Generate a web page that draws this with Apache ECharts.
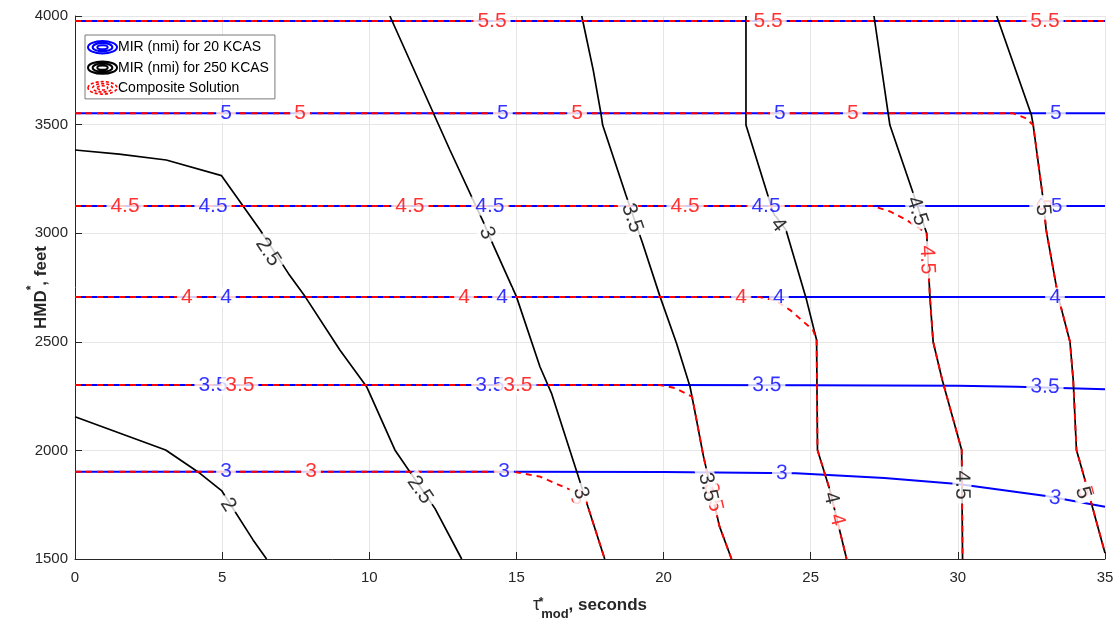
<!DOCTYPE html>
<html><head><meta charset="utf-8">
<script src="https://cdn.jsdelivr.net/npm/echarts@6/dist/echarts.min.js"></script>
<style>html,body{margin:0;padding:0;background:#fff}#c{width:1120px;height:624px}</style>
</head><body><div id="c"></div>
<script>
// ---------------- DATA ----------------
const xTicks = [0, 5, 10, 15, 20, 25, 30, 35];
const yTicks = [1500, 2000, 2500, 3000, 3500, 4000];

// MIR (nmi) for 20 KCAS contours  [tau, HMD]
const blueLevels = [3, 3.5, 4, 4.5, 5, 5.5];
const blue30 = [[0,1902],[15,1902],[20,1900],[24.5,1895],[27.5,1873],[30,1845],[33,1790],[35,1741]];
const blue35 = [[0,2301],[20,2301],[25,2300],[30,2298],[32,2293],[35,2281]];
const blue40 = [[0,2706],[35,2706]];
const blue45 = [[0,3125],[35,3125]];
const blue50 = [[0,3552],[35,3552]];
const blue55 = [[0,3977],[35,3977]];

// MIR (nmi) for 250 KCAS contours
const blackLevels = [2, 2.5, 3, 3.5, 4, 4.5, 5];
const black20 = [[0,2155],[3.08,2002],[4.17,1902],[4.98,1815],[6.05,1588],[6.51,1500]];
const black25 = [[0,3383],[1.5,3364],[3.1,3337],[4.98,3265],[6.29,3015],[7.25,2815],[7.82,2708],[9.0,2462],[9.91,2293],[10.02,2260],[10.87,2002],[12.23,1733],[13.14,1500]];
const black30 = [[10.7,4000],[12.74,3383],[13.87,3053],[14.21,2946],[15.0,2708],[15.8,2385],[16.2,2260],[17.16,1856],[17.43,1741],[18.0,1500]];
const black35 = [[17.22,4000],[17.61,3751],[17.87,3553],[17.93,3498],[18.72,3176],[19.29,2953],[19.88,2708],[20.44,2493],[20.9,2293],[21.12,2140],[21.35,1976],[21.9,1650],[22.31,1500]];
const black40 = [[22.8,4000],[22.8,3498],[23.73,3093],[24.16,3015],[24.86,2692],[25.2,2508],[25.23,2002],[25.65,1818],[26.22,1500]];
const black45 = [[27.15,4000],[27.63,3553],[27.69,3498],[28.43,3205],[28.94,3000],[29.05,2708],[29.16,2500],[29.47,2324],[30.13,2002],[30.16,1500]];
const black50 = [[31.32,4000],[32.5,3544],[32.56,3498],[32.9,3153],[33.0,3015],[33.41,2708],[33.81,2500],[33.92,2324],[34.03,2002],[34.32,1864],[35,1528]];

// Composite solution contours
const redLevels = [3, 3.5, 4, 4.5, 5, 5.5];
const red30 = [[0,1902],[14.9,1902],[15.8,1879],[16.7,1826],[17.3,1795],[17.43,1741],[18.0,1500]];
const red35 = [[0,2301],[19.88,2301],[20.39,2287],[20.97,2247],[21.12,2140],[21.35,1976],[21.9,1650],[22.31,1500]];
const red40 = [[0,2706],[23.28,2706],[23.8,2690],[24.3,2646],[25.08,2554],[25.2,2508],[25.23,2002],[25.65,1818],[26.22,1500]];
const red45 = [[0,3125],[27.1,3125],[27.7,3100],[28.25,3061],[28.94,3000],[29.05,2708],[29.16,2500],[29.47,2324],[30.13,2002],[30.16,1500]];
const red50 = [[0,3552],[31.88,3552],[32.3,3530],[32.56,3498],[32.9,3153],[33.0,3015],[33.41,2708],[33.81,2500],[33.92,2324],[34.03,2002],[34.32,1864],[35,1528]];
const red55 = [[0,3977],[35,3977]];

// contour labels  [level, tau, HMD]
const blueLabels = [
  [5,5.13,3552],[5,14.54,3552],[5,23.95,3552],[5,33.33,3552],
  [4.5,4.69,3125],[4.5,14.1,3125],[4.5,23.48,3125],[4.5,33.06,3125],
  [4,5.13,2706],[4,14.51,2706],[4,23.92,2706],[4,33.3,2706],
  [3.5,4.69,2301],[3.5,14.1,2301],[3.5,23.51,2300],[3.5,32.96,2292],
  [3,5.13,1902],[3,14.58,1902],[3,24.02,1895],[3,33.3,1781]
];
const redLabels = [
  [5.5,14.17,3977],[5.5,23.55,3977],[5.5,32.96,3977],
  [5,7.65,3552],[5,17.06,3552],[5,26.43,3552],
  [4.5,1.7,3125],[4.5,11.38,3125],[4.5,20.73,3125],
  [4,3.8,2706],[4,13.22,2706],[4,22.63,2706],
  [3.5,5.6,2301],[3.5,15.05,2301],
  [3,8.02,1902],
  [3,17.06,1781],[3.5,21.68,1785],[4,25.89,1680],[4.5,28.95,2877],[5,32.89,3130],[5,34.32,1808]
];
const blackLabels = [
  [2,5.2,1749],
  [2.5,6.56,2913],[2.5,11.72,1818],
  [3,14.0,3001],[3,17.19,1804],
  [3.5,18.93,3070],[3.5,21.51,1831],
  [4,23.89,3038],[4,25.69,1781],
  [4.5,28.61,3102],[4.5,30.14,1841],
  [5,32.89,3107],[5,34.25,1804]
];

const seriesNames = ['MIR (nmi) for 20 KCAS', 'MIR (nmi) for 250 KCAS', 'Composite Solution'];
// ---------------------------------------------------------------

const blueLines = [blue30, blue35, blue40, blue45, blue50, blue55];
const blackLines = [black20, black25, black30, black35, black40, black45, black50];
const redLines = [red30, red35, red40, red45, red50, red55];

const FONT = '"Liberation Sans", Arial, Helvetica, sans-serif';
const BLUE = '#0000ff', BLACK = '#000000', RED = '#ff0000';
const AX = '#262626';
const ringPath = 'path://M1,6.5 A14,6 0 1,1 29,6.5 A14,6 0 1,1 1,6.5 Z M5.5,6.5 A9.5,4 0 1,1 24.5,6.5 A9.5,4 0 1,1 5.5,6.5 Z M10,6.5 A5,2 0 1,1 20,6.5 A5,2 0 1,1 10,6.5 Z';

const chart = echarts.init(document.getElementById('c'));

function lineSeries(name, data, color, width, type, z) {
  return {
    name, type: 'line', data, z, symbol: 'none', showSymbol: false, silent: true,
    animation: false, clip: true,
    itemStyle: { color },
    lineStyle: { color, width, type, dashOffset: 0 }
  };
}

const series = [];
blueLines.forEach(l => series.push(lineSeries(seriesNames[0], l, BLUE, 2, 'solid', 2)));
blackLines.forEach(l => series.push(lineSeries(seriesNames[1], l, BLACK, 1.7, 'solid', 3)));
redLines.forEach(l => series.push(lineSeries(seriesNames[2], l, RED, 1.9, [6, 5], 4)));

const option = {
  animation: false,
  backgroundColor: '#fff',
  textStyle: { fontFamily: FONT },
  grid: { left: 75, right: 15, top: 16, bottom: 65, containLabel: false, outerBoundsMode: 'none' },
  legend: {
    left: 85, top: 35, orient: 'vertical',
    padding: [5, 6, 4, 2], itemGap: 6, itemWidth: 29, itemHeight: 13,
    backgroundColor: '#fff', borderColor: '#7a7a7a', borderWidth: 1,
    selectedMode: false,
    textStyle: { fontSize: 14, color: '#000', fontFamily: FONT, padding: [0, 0, 0, -4] },
    data: [
      { name: seriesNames[0], icon: ringPath, itemStyle: { color: 'transparent', borderColor: BLUE, borderWidth: 2 } },
      { name: seriesNames[1], icon: ringPath, itemStyle: { color: 'transparent', borderColor: BLACK, borderWidth: 2 } },
      { name: seriesNames[2], icon: ringPath, itemStyle: { color: 'transparent', borderColor: RED, borderWidth: 1.6, borderType: [3, 2] } }
    ]
  },
  xAxis: {
    type: 'value', min: xTicks[0], max: xTicks[xTicks.length - 1], interval: xTicks[1] - xTicks[0],
    axisLine: { show: true, onZero: false, lineStyle: { color: AX, width: 1 } },
    axisTick: { show: true, inside: true, length: 7, lineStyle: { color: AX } },
    axisLabel: { fontSize: 15, color: AX, margin: 11, fontFamily: FONT, formatter: v => String(v) },
    splitLine: { show: true, lineStyle: { color: '#e6e6e6', width: 1 } },
    name: '{t|τ}{s|*}{m|mod}{b|, seconds}',
    nameLocation: 'middle', nameGap: 41, nameMoveOverlap: false,
    nameTextStyle: {
      color: AX, fontFamily: FONT,
      rich: {
        t: { fontSize: 18, fontFamily: FONT, color: AX, lineHeight: 17, padding: [0, 1, 7, 0] },
        s: { fontSize: 12, fontWeight: 'bold', fontFamily: FONT, color: AX, lineHeight: 12, padding: [0, 0, 12, 0], width: 0 },
        m: { fontSize: 13, fontWeight: 'bold', fontFamily: FONT, color: AX, lineHeight: 13, padding: [11, 0, 0, 0] },
        b: { fontSize: 17, fontWeight: 'bold', fontFamily: FONT, color: AX, lineHeight: 17, padding: [0, 0, 7, 0] }
      }
    }
  },
  yAxis: {
    type: 'value', min: yTicks[0], max: yTicks[yTicks.length - 1], interval: yTicks[1] - yTicks[0],
    axisLine: { show: true, onZero: false, lineStyle: { color: AX, width: 1 } },
    axisTick: { show: true, inside: true, length: 7, lineStyle: { color: AX } },
    axisLabel: { fontSize: 15, color: AX, margin: 7, fontFamily: FONT, formatter: v => String(v) },
    splitLine: { show: true, lineStyle: { color: '#e6e6e6', width: 1 } },
    name: '{b|HMD}{s|*}{b|, feet}',
    nameLocation: 'middle', nameGap: 29, nameRotate: 90, nameMoveOverlap: false,
    nameTextStyle: {
      color: AX, fontFamily: FONT,
      rich: {
        b: { fontSize: 17, fontWeight: 'bold', fontFamily: FONT, color: AX, lineHeight: 17, padding: [7, 0, 0, 0] },
        s: { fontSize: 12, fontWeight: 'bold', fontFamily: FONT, color: AX, lineHeight: 12, padding: [0, 0, 12, 0] }
      }
    }
  },
  series
};
chart.setOption(option);

// rotate each contour label along its contour (like MATLAB clabel)
function segDist(p, a, b) {
  const dx = b[0] - a[0], dy = b[1] - a[1];
  const L = dx * dx + dy * dy;
  let t = L ? ((p[0] - a[0]) * dx + (p[1] - a[1]) * dy) / L : 0;
  t = Math.max(0, Math.min(1, t));
  const qx = a[0] + t * dx, qy = a[1] + t * dy;
  return Math.hypot(p[0] - qx, p[1] - qy);
}
function labelAngle(line, x, y) {
  const p = chart.convertToPixel({ gridIndex: 0 }, [x, y]);
  const pts = line.map(q => chart.convertToPixel({ gridIndex: 0 }, q));
  let best = 0, bd = Infinity;
  for (let i = 0; i < pts.length - 1; i++) {
    const d = segDist(p, pts[i], pts[i + 1]);
    if (d < bd) { bd = d; best = i; }
  }
  const a = pts[best], b = pts[best + 1];
  let r = -Math.atan2(b[1] - a[1], b[0] - a[0]) * 180 / Math.PI;
  while (r > 90) r -= 180;
  while (r < -90) r += 180;
  return r;
}
function labelSeries(labels, levels, lines, color, z) {
  return {
    type: 'scatter', z, silent: true, animation: false, clip: false,
    symbolSize: 1, itemStyle: { color: 'rgba(0,0,0,0)' },
    data: labels.map(l => ({
      value: [l[1], l[2], l[0]],
      label: { rotate: labelAngle(lines[levels.indexOf(l[0])], l[1], l[2]) }
    })),
    label: {
      show: true, position: 'inside', formatter: p => String(p.value[2]),
      fontSize: 21, color, fontFamily: FONT, backgroundColor: '#fff',
      padding: [0, 4], lineHeight: 19
    },
    tooltip: { show: false }
  };
}
const labelSeriesList = [
  labelSeries(blueLabels, blueLevels, blueLines, BLUE, 10),
  labelSeries(redLabels, redLevels, redLines, RED, 11),
  labelSeries(blackLabels, blackLevels, blackLines, BLACK, 12)
];
chart.setOption({ series: series.concat(labelSeriesList) });
</script>
</body></html>
